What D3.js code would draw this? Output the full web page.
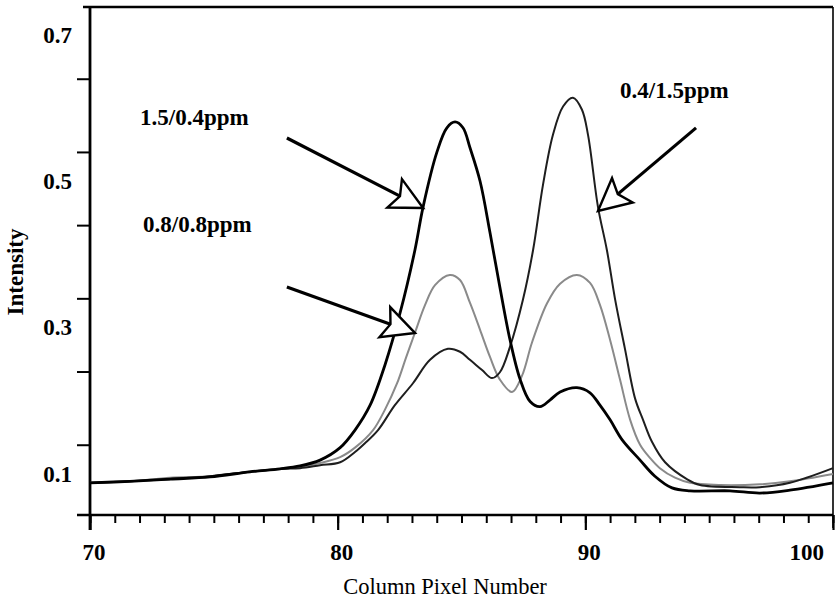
<!DOCTYPE html>
<html>
<head>
<meta charset="utf-8">
<script src="https://cdn.jsdelivr.net/npm/d3@7"></script>
<style>
  body { margin: 0; background: #fff; }
  text { font-family: 'Liberation Serif', 'Times New Roman', serif; fill: #000; }
</style>
</head>
<body>
<svg id="chart" width="836" height="601"></svg>
<script>
// ---------------- DATA ----------------
// Curve "1.5/0.4ppm" (black, thick)
const xA = [70,71.61,73.23,74.85,76.46,77.67,78.48,79.29,80.10,80.70,81.31,81.91,82.52,83.12,83.45,84.01,84.41,84.74,85.06,85.34,85.75,86.15,86.55,86.96,87.36,87.77,88.17,88.57,88.98,89.66,90.19,90.59,91.00,91.48,92.21,92.81,93.50,94.23,95.84,97.05,98.26,100];
const yA = [0.088,0.090,0.093,0.096,0.103,0.107,0.111,0.119,0.136,0.160,0.194,0.249,0.320,0.406,0.465,0.540,0.573,0.581,0.573,0.546,0.500,0.430,0.355,0.283,0.230,0.199,0.192,0.201,0.212,0.218,0.211,0.194,0.174,0.147,0.119,0.097,0.081,0.077,0.077,0.074,0.078,0.088];

// Curve "0.4/1.5ppm" (dark, thinner)
const xB = [70,71.61,73.23,74.85,76.46,77.67,78.48,79.29,80.10,80.70,81.10,81.63,82.31,83.04,83.73,84.45,84.94,85.34,85.83,86.23,86.55,86.96,87.48,87.89,88.29,88.69,89.10,89.50,89.86,90.11,90.51,90.87,91.20,91.60,92.01,92.33,92.69,93.22,94.10,94.63,96.24,97.05,98.26,100];
const yB = [0.088,0.090,0.093,0.097,0.103,0.107,0.108,0.112,0.116,0.130,0.142,0.160,0.194,0.224,0.256,0.271,0.267,0.256,0.242,0.231,0.239,0.274,0.338,0.406,0.495,0.563,0.602,0.614,0.598,0.563,0.465,0.406,0.339,0.271,0.203,0.174,0.144,0.116,0.093,0.085,0.082,0.082,0.088,0.108];

// Curve "0.8/0.8ppm" (grey)
const xC = [70,71.61,73.23,74.85,76.46,77.67,78.48,79.29,80.10,80.70,81.43,81.91,82.40,82.76,83.12,83.53,83.93,84.53,84.94,85.34,85.75,86.15,86.55,87.04,87.44,87.85,88.45,88.98,89.66,90.19,90.59,91.00,91.40,91.81,92.21,92.61,93.01,93.62,94.23,95.44,97.05,98.26,100];
const yC = [0.088,0.090,0.095,0.097,0.103,0.107,0.110,0.115,0.123,0.136,0.160,0.188,0.224,0.259,0.293,0.331,0.358,0.372,0.365,0.334,0.297,0.260,0.229,0.212,0.234,0.280,0.333,0.360,0.372,0.361,0.331,0.283,0.229,0.174,0.140,0.122,0.108,0.095,0.088,0.085,0.086,0.090,0.100];

// Axes
const xDomain = [70, 100];
const yDomain = [0.044, 0.738];
const xMinorTicks = d3.range(70, 101, 1);
const xTickLabels = [70, 80, 90, 100];
const yMinorTicks = [0.14, 0.24, 0.34, 0.44, 0.54, 0.64];
const yTickLabels = [0.1, 0.3, 0.5, 0.7];

// Annotations (data coordinates)
const annoText = ["1.5/0.4ppm", "0.8/0.8ppm", "0.4/1.5ppm"];
const annoX = [72.02, 72.14, 91.40];
const annoY = [0.577, 0.431, 0.614];
const arrowFromX = [77.95, 77.95, 94.47];
const arrowFromY = [0.559, 0.3556, 0.5729];
const arrowToX = [83.45, 83.12, 90.51];
const arrowToY = [0.4635, 0.2927, 0.4594];

// ---------------- CHART ----------------
const svg = d3.select("#chart");
svg.append("rect").attr("width", 836).attr("height", 601).attr("fill", "#fff");

const x = d3.scaleLinear().domain(xDomain).range([90, 833]);
const y = d3.scaleLinear().domain(yDomain).range([515, 7]);

// frame: top & right borders
svg.append("line").attr("x1", 83).attr("x2", x(100)).attr("y1", y(yDomain[1])).attr("y2", y(yDomain[1]))
  .attr("stroke", "#000").attr("stroke-width", 2.5);
svg.append("line").attr("x1", x(100)).attr("x2", x(100)).attr("y1", y(yDomain[1])).attr("y2", y(yDomain[0]) + 13)
  .attr("stroke", "#000").attr("stroke-width", 1.6);

// minor x ticks
const gxMinor = svg.append("g").attr("transform", `translate(0,${y(yDomain[0])})`)
  .call(d3.axisBottom(x).tickValues(xMinorTicks).tickSize(8).tickFormat(""));
gxMinor.select(".domain").remove();
gxMinor.selectAll("line").attr("stroke-width", 2);
// major x ticks
const gxMajor = svg.append("g").attr("transform", `translate(0,${y(yDomain[0])})`)
  .call(d3.axisBottom(x).tickValues(xTickLabels).tickSize(15).tickFormat(""));
gxMajor.select(".domain").remove();
gxMajor.selectAll("line").attr("stroke-width", 2.2);

// y ticks
const gy = svg.append("g").attr("transform", `translate(${x(70)},0)`)
  .call(d3.axisLeft(y).tickValues(yMinorTicks).tickSize(13).tickFormat(""));
gy.select(".domain").remove();
gy.selectAll("line").attr("stroke-width", 2);

// y labels
const gyl = svg.append("g").attr("transform", `translate(${x(70)},0)`)
  .call(d3.axisLeft(y).tickValues(yTickLabels).tickSize(0).tickPadding(18).tickFormat(d3.format(".1f")));
gyl.select(".domain").remove();
gyl.selectAll("text").attr("font-size", 23).attr("font-weight", "bold")
  .style("font-family", "'Liberation Serif', 'Times New Roman', serif").attr("fill", "#000");

// axis lines
svg.append("line").attr("x1", 77).attr("x2", x(100)).attr("y1", y(yDomain[0])).attr("y2", y(yDomain[0]))
  .attr("stroke", "#000").attr("stroke-width", 2.6);
svg.append("line").attr("x1", x(70)).attr("x2", x(70)).attr("y1", y(yDomain[1])).attr("y2", y(yDomain[0]) + 15)
  .attr("stroke", "#000").attr("stroke-width", 2.8);

// x labels
svg.selectAll(".xl").data(xTickLabels).join("text").attr("class", "xl")
  .attr("x", d => d === 100 ? x(d) - 9 : x(d) + 4)
  .attr("y", 560)
  .attr("text-anchor", d => d === 100 ? "end" : "middle")
  .attr("font-size", 23).attr("font-weight", "bold")
  .text(d => d);

// axis titles
svg.append("text").attr("x", 445).attr("y", 594).attr("text-anchor", "middle")
  .attr("font-size", 22.5).text("Column Pixel Number");
svg.append("text").attr("transform", "translate(23,272) rotate(-90)").attr("text-anchor", "middle")
  .attr("font-size", 23).attr("font-weight", "bold").text("Intensity");

// curves
const line = d3.line().x(d => x(d[0])).y(d => y(d[1])).curve(d3.curveCatmullRom.alpha(0.5));
const series = [
  { xs: xC, ys: yC, color: "#8a8a8a", w: 2.0 },
  { xs: xB, ys: yB, color: "#1e1e1e", w: 2.0 },
  { xs: xA, ys: yA, color: "#000", w: 2.8 }
];
series.forEach(s => {
  svg.append("path").datum(d3.zip(s.xs, s.ys)).attr("d", line)
    .attr("fill", "none").attr("stroke", s.color).attr("stroke-width", s.w)
    .attr("stroke-linejoin", "round");
});

// arrows
function arrow(x1, y1, x2, y2) {
  const dx = x2 - x1, dy = y2 - y1, L = Math.hypot(dx, dy);
  const ux = dx / L, uy = dy / L, px = -uy, py = ux;
  const hl = 32, hw = 16, notch = 6;
  const bx = x2 - ux * hl, by = y2 - uy * hl;
  const nx = x2 - ux * (hl - notch), ny = y2 - uy * (hl - notch);
  svg.append("line").attr("x1", x1).attr("y1", y1).attr("x2", nx).attr("y2", ny)
    .attr("stroke", "#000").attr("stroke-width", 3.2);
  svg.append("path")
    .attr("d", `M${x2},${y2}L${bx + px * hw},${by + py * hw}L${nx},${ny}L${bx - px * hw},${by - py * hw}Z`)
    .attr("fill", "#fff").attr("stroke", "#000").attr("stroke-width", 2.4).attr("stroke-linejoin", "miter");
}
for (let i = 0; i < arrowFromX.length; i++) {
  arrow(x(arrowFromX[i]), y(arrowFromY[i]), x(arrowToX[i]), y(arrowToY[i]));
}

// annotation labels
svg.selectAll(".anno").data(annoText).join("text").attr("class", "anno")
  .attr("x", (d, i) => x(annoX[i])).attr("y", (d, i) => y(annoY[i]))
  .attr("font-size", 23).attr("font-weight", "bold").text(d => d);
</script>
</body>
</html>
